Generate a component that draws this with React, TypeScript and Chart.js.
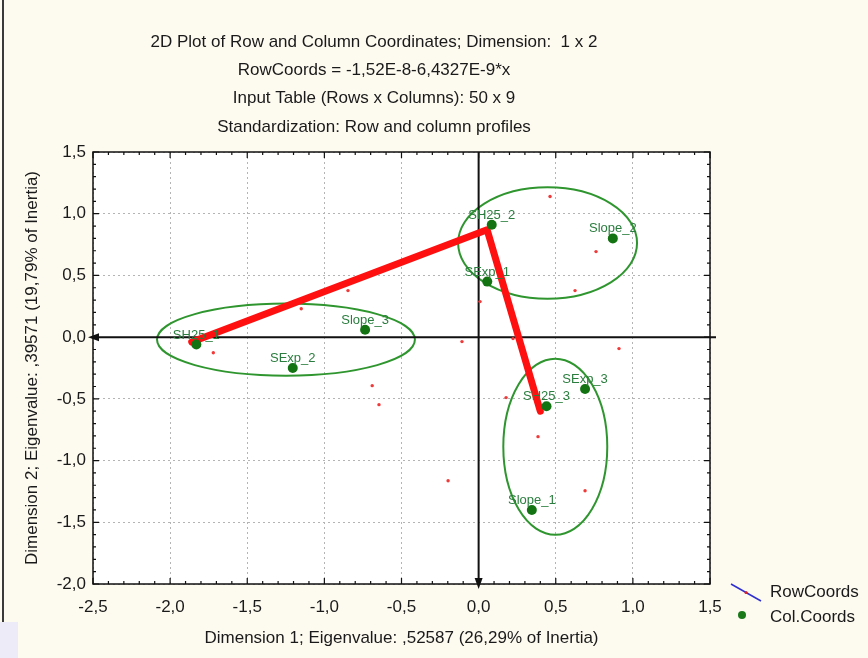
import React, { useEffect, useRef } from 'react';
import { Chart, registerables } from 'chart.js';

Chart.register(...registerables);

// ---------- data ----------
const titleLines = [
  '2D Plot of Row and Column Coordinates; Dimension:  1 x 2',
  'RowCoords = -1,52E-8-6,4327E-9*x',
  'Input Table (Rows x Columns): 50 x 9',
  'Standardization: Row and column profiles',
];
const xAxisTitle = 'Dimension 1; Eigenvalue: ,52587 (26,29% of Inertia)';
const yAxisTitle = 'Dimension 2; Eigenvalue: ,39571 (19,79% of Inertia)';
const legendLabels = ['RowCoords', 'Col.Coords'];

const colLabels = ['SH25_1', 'SExp_2', 'Slope_3', 'SH25_2', 'Slope_2', 'SExp_1', 'SExp_3', 'SH25_3', 'Slope_1'];
const colX = [-1.83, -1.205, -0.736, 0.085, 0.87, 0.056, 0.69, 0.44, 0.345];
const colY = [-0.06, -0.25, 0.06, 0.91, 0.8, 0.45, -0.42, -0.56, -1.4];

const rowX = [-1.72, -1.15, -0.847, -0.108, -0.69, -0.646, -0.198, 0.463, 0.761, 0.625, 0.009, 0.223, 0.91, 0.178, 0.385, 0.69];
const rowY = [-0.126, 0.23, 0.377, -0.036, -0.393, -0.547, -1.163, 1.139, 0.693, 0.377, 0.288, -0.012, -0.093, -0.49, -0.806, -1.244];

const pathX = [-1.86, 0.055, 0.4];
const pathY = [-0.04, 0.87, -0.6];

const ellipseCX = [-1.249, 0.447, 0.497];
const ellipseCY = [-0.02, 0.763, -0.888];
const ellipseRX = [0.836, 0.58, 0.337];
const ellipseRY = [0.292, 0.451, 0.713];

const xMin = -2.5, xMax = 1.5, yMin = -2.0, yMax = 1.5, majorStep = 0.5, minorStep = 0.1;

const FONT = "'Liberation Sans', Arial, sans-serif";
const FS = 17;
const fmt = (v: number) => (Math.abs(v) < 1e-9 ? 0 : v).toFixed(1).replace('.', ',');

export default function App() {
  const ref = useRef<HTMLCanvasElement>(null);

  useEffect(() => {
    const canvas = ref.current!;

    const background = {
      id: 'bg',
      beforeDraw(chart: any) {
        const { ctx, chartArea: a, width, height } = chart;
        ctx.save();
        ctx.fillStyle = '#fdfaf0';
        ctx.fillRect(0, 0, width, height);
        ctx.fillStyle = '#ecebf7';
        ctx.fillRect(0, 622, 18, height - 622);
        ctx.strokeStyle = '#3a3a3a';
        ctx.lineWidth = 2;
        ctx.beginPath();
        ctx.moveTo(3, 0);
        ctx.lineTo(3, 622);
        ctx.stroke();
        ctx.fillStyle = '#ffffff';
        ctx.fillRect(a.left, a.top, a.right - a.left, a.bottom - a.top);
        // titles
        ctx.fillStyle = '#1a1a1a';
        ctx.font = `${FS}px ${FONT}`;
        ctx.textAlign = 'center';
        ctx.textBaseline = 'middle';
        titleLines.forEach((t, i) => ctx.fillText(t, 374, 42 + i * 28.3));
        ctx.restore();
      },
    };

    const underlay = {
      id: 'underlay',
      beforeDatasetsDraw(chart: any) {
        const { ctx, chartArea: a } = chart;
        const xs = chart.scales.x, ys = chart.scales.y;
        ctx.save();
        // ellipses
        ctx.strokeStyle = '#2f962f';
        ctx.lineWidth = 2;
        ellipseCX.forEach((cx, i) => {
          const px = xs.getPixelForValue(cx);
          const py = ys.getPixelForValue(ellipseCY[i]);
          const rx = Math.abs(xs.getPixelForValue(cx + ellipseRX[i]) - px);
          const ry = Math.abs(ys.getPixelForValue(ellipseCY[i] + ellipseRY[i]) - py);
          ctx.beginPath();
          ctx.ellipse(px, py, rx, ry, 0, 0, Math.PI * 2);
          ctx.stroke();
        });
        // zero axes
        const x0 = xs.getPixelForValue(0);
        const y0 = ys.getPixelForValue(0);
        ctx.strokeStyle = '#111';
        ctx.fillStyle = '#111';
        ctx.lineWidth = 2;
        ctx.beginPath();
        ctx.moveTo(a.left, y0);
        ctx.lineTo(a.right + 6, y0);
        ctx.moveTo(x0, a.top);
        ctx.lineTo(x0, a.bottom);
        ctx.stroke();
        ctx.beginPath();
        ctx.moveTo(a.left - 5, y0);
        ctx.lineTo(a.left + 6, y0 - 4);
        ctx.lineTo(a.left + 6, y0 + 4);
        ctx.closePath();
        ctx.fill();
        ctx.beginPath();
        ctx.moveTo(x0, a.bottom + 5);
        ctx.lineTo(x0 - 4, a.bottom - 6);
        ctx.lineTo(x0 + 4, a.bottom - 6);
        ctx.closePath();
        ctx.fill();
        ctx.restore();
      },
    };

    const overlay = {
      id: 'overlay',
      afterDatasetsDraw(chart: any) {
        const { ctx, chartArea: a } = chart;
        const xs = chart.scales.x, ys = chart.scales.y;
        ctx.save();
        // point labels
        ctx.font = `13px ${FONT}`;
        ctx.textAlign = 'center';
        ctx.textBaseline = 'alphabetic';
        ctx.fillStyle = '#2a7d3e';
        colLabels.forEach((lab, i) => {
          const px = xs.getPixelForValue(colX[i]);
          const py = ys.getPixelForValue(colY[i]);
          ctx.fillText(lab, px, py - 6);
        });
        // frame
        ctx.strokeStyle = '#111';
        ctx.lineWidth = 1.5;
        ctx.strokeRect(a.left, a.top, a.right - a.left, a.bottom - a.top);
        // minor / major inward ticks
        ctx.lineWidth = 1.2;
        ctx.beginPath();
        const nx = Math.round((xMax - xMin) / minorStep);
        for (let i = 0; i <= nx; i++) {
          const v = xMin + i * minorStep;
          const p = xs.getPixelForValue(v);
          const len = i % 5 === 0 ? 6 : 3;
          ctx.moveTo(p, a.bottom);
          ctx.lineTo(p, a.bottom - len);
          ctx.moveTo(p, a.top);
          ctx.lineTo(p, a.top + len);
        }
        const ny = Math.round((yMax - yMin) / minorStep);
        for (let i = 0; i <= ny; i++) {
          const v = yMin + i * minorStep;
          const p = ys.getPixelForValue(v);
          const len = i % 5 === 0 ? 6 : 3;
          ctx.moveTo(a.left, p);
          ctx.lineTo(a.left + len, p);
          ctx.moveTo(a.right, p);
          ctx.lineTo(a.right - len, p);
        }
        ctx.stroke();
        ctx.restore();
      },
      afterDraw(chart: any) {
        const { ctx } = chart;
        ctx.save();
        // legend
        ctx.strokeStyle = '#2f2fd0';
        ctx.lineWidth = 1.5;
        ctx.beginPath();
        ctx.moveTo(731, 584);
        ctx.lineTo(761, 601);
        ctx.stroke();
        ctx.fillStyle = '#e02020';
        ctx.beginPath();
        ctx.arc(746, 592.5, 1.5, 0, Math.PI * 2);
        ctx.fill();
        ctx.fillStyle = '#1a7a1a';
        ctx.beginPath();
        ctx.arc(742, 615, 4, 0, Math.PI * 2);
        ctx.fill();
        ctx.fillStyle = '#1a1a1a';
        ctx.font = `${FS}px ${FONT}`;
        ctx.textAlign = 'left';
        ctx.textBaseline = 'middle';
        ctx.fillText(chart.data.datasets[2].label, 770, 592);
        ctx.fillText(chart.data.datasets[0].label, 770, 617);
        ctx.restore();
      },
    };

    const chart = new Chart(canvas, {
      type: 'scatter',
      data: {
        datasets: [
          {
            label: legendLabels[1],
            data: colX.map((x, i) => ({ x, y: colY[i] })),
            backgroundColor: '#137313',
            borderColor: '#137313',
            pointRadius: 5,
            pointBorderWidth: 0,
          },
          {
            label: 'path',
            data: pathX.map((x, i) => ({ x, y: pathY[i] })),
            showLine: true,
            borderColor: '#ff1010',
            backgroundColor: '#ff1010',
            borderWidth: 7,
            pointRadius: 0,
            borderCapStyle: 'round',
            borderJoinStyle: 'round',
          } as any,
          {
            label: legendLabels[0],
            data: rowX.map((x, i) => ({ x, y: rowY[i] })),
            backgroundColor: '#f03a3a',
            borderColor: '#f03a3a',
            pointRadius: 1.7,
            pointBorderWidth: 0,
          },
        ],
      },
      options: {
        responsive: false,
        animation: false,
        events: [],
        layout: { padding: { top: 152, right: 158, bottom: 0, left: 0 } },
        plugins: {
          legend: { display: false },
          tooltip: { enabled: false },
          title: { display: false },
        },
        scales: {
          x: {
            type: 'linear',
            min: xMin,
            max: xMax,
            ticks: {
              stepSize: majorStep,
              callback: (v: any) => fmt(Number(v)),
              font: { family: FONT, size: FS },
              color: '#1a1a1a',
              padding: 13,
              maxRotation: 0,
            },
            grid: { color: '#b4b4b4', drawTicks: false, lineWidth: 1 },
            border: { display: false, dash: [2, 3] },
            title: {
              display: true,
              text: xAxisTitle,
              font: { family: FONT, size: FS },
              color: '#1a1a1a',
              padding: { top: 0, bottom: 9 },
            },
            afterFit: (s: any) => {
              s.height = 74;
            },
          },
          y: {
            type: 'linear',
            min: yMin,
            max: yMax,
            ticks: {
              stepSize: majorStep,
              callback: (v: any) => fmt(Number(v)),
              font: { family: FONT, size: FS },
              color: '#1a1a1a',
              padding: 7,
            },
            grid: { color: '#b4b4b4', drawTicks: false, lineWidth: 1 },
            border: { display: false, dash: [2, 3] },
            title: {
              display: true,
              text: yAxisTitle,
              font: { family: FONT, size: FS },
              color: '#1a1a1a',
              padding: { top: 22, bottom: 0 },
            },
            afterFit: (s: any) => {
              s.width = 93;
            },
          },
        },
      },
      plugins: [background, underlay, overlay],
    } as any);

    return () => chart.destroy();
  }, []);

  return (
    <div style={{ position: 'fixed', left: 0, top: 0, width: 868, height: 658 }}>
      <canvas ref={ref} width={868} height={658} style={{ display: 'block' }} />
    </div>
  );
}
